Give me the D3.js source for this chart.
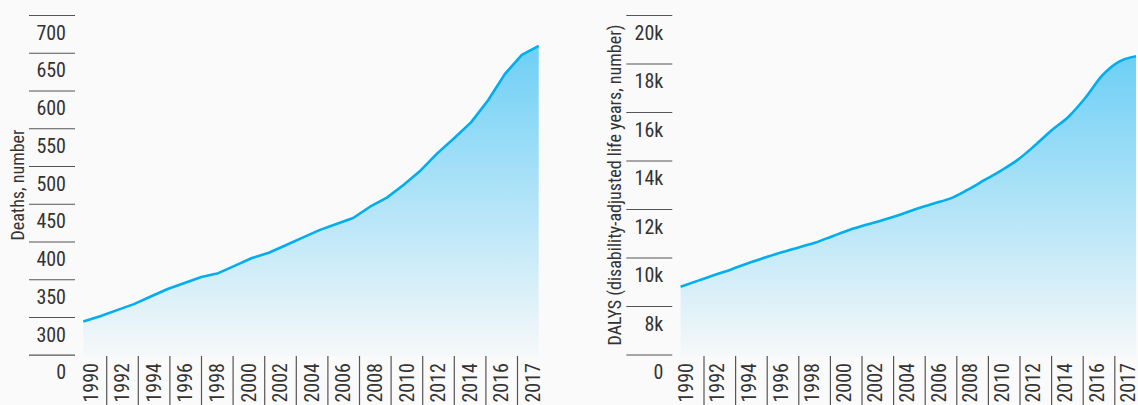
<!DOCTYPE html>
<html>
<head>
<meta charset="utf-8">
<script src="https://cdn.jsdelivr.net/npm/d3@7"></script>
<style>
  body { margin: 0; background: #fafafa; }
  text { font-family: "Roboto Condensed", "Liberation Sans Narrow", sans-serif; fill: #333; }
</style>
</head>
<body>
<div id="chart"></div>
<script>
// data
var years = [1990, 1991, 1992, 1993, 1994, 1995, 1996, 1997, 1998, 1999,
             2000, 2001, 2002, 2003, 2004, 2005, 2006, 2007, 2008, 2009,
             2010, 2011, 2012, 2013, 2014, 2015, 2016, 2017];
var yearLabels = ['1990', '1992', '1994', '1996', '1998', '2000', '2002', '2004',
                  '2006', '2008', '2010', '2012', '2014', '2016', '2017'];

var deaths = [317, 324, 332, 340, 350, 360, 368, 376, 381, 391,
              401, 408, 418, 428, 438, 446, 454, 469, 481, 498,
              517, 540, 560, 581, 610, 645, 670, 682];
var dalys = [9510, 9750, 9990, 10220, 10480, 10710, 10930, 11130, 11330, 11590,
             11850, 12060, 12260, 12480, 12720, 12940, 13150, 13500, 13900, 14300,
             14750, 15330, 15960, 16520, 17300, 18220, 18790, 19010];

var deathTicks = [0, 300, 350, 400, 450, 500, 550, 600, 650, 700];
var dalyTicks = [0, 8000, 10000, 12000, 14000, 16000, 18000, 20000];

// page constants
var width = 1138;
var height = 405;
var panelOffset = 597.3;
var plotBottom = 355.7;

var svg = d3.select('#chart')
    .append('svg')
    .attr('width', width)
    .attr('height', height);

svg.append('rect')
    .attr('width', width)
    .attr('height', height)
    .attr('fill', '#fafafa');

// shared gradient for the area fills
var grad = svg.append('defs').append('linearGradient')
    .attr('id', 'fillGrad')
    .attr('x1', 0).attr('y1', 0)
    .attr('x2', 0).attr('y2', 1);
grad.append('stop').attr('offset', '0%').attr('stop-color', '#6dcff6');
grad.append('stop').attr('offset', '100%').attr('stop-color', '#f6f8f9');

function drawPanel(offset, values, ticks, yScale, tickFormat, title, curve, labelShift) {
    var g = svg.append('g').attr('transform', 'translate(' + offset + ',0)');

    var xLine = d3.scaleLinear().domain([1990, 2017]).range([83.3, 538.7]);
    var xBand = d3.scaleBand().domain(yearLabels).range([75.1, 549.1]);

    // y ticks: a rule above each label
    g.selectAll('line.ytick')
        .data(ticks)
        .enter()
        .append('line')
        .attr('class', 'ytick')
        .attr('x1', 29)
        .attr('x2', 75)
        .attr('y1', d => yScale(d) - 16.8)
        .attr('y2', d => yScale(d) - 16.8)
        .attr('stroke', '#555')
        .attr('stroke-width', 1.2);

    g.selectAll('text.ylabel')
        .data(ticks)
        .enter()
        .append('text')
        .attr('class', 'ylabel')
        .attr('x', 66)
        .attr('y', d => yScale(d))
        .attr('dy', '0.36em')
        .style('text-anchor', 'end')
        .style('font-size', '20px')
        .text(tickFormat);

    g.append('text')
        .attr('transform', 'translate(17.5,185) rotate(-90)')
        .attr('dy', '0.36em')
        .style('text-anchor', 'middle')
        .style('font-size', '18px')
        .text(title);

    // x axis: separators between year bands
    g.selectAll('line.sep')
        .data(yearLabels.slice(1))
        .enter()
        .append('line')
        .attr('class', 'sep')
        .attr('x1', d => xBand(d))
        .attr('x2', d => xBand(d))
        .attr('y1', plotBottom)
        .attr('y2', height)
        .attr('stroke', '#555')
        .attr('stroke-width', 1.2);

    g.selectAll('text.xlabel')
        .data(yearLabels)
        .enter()
        .append('text')
        .attr('class', 'xlabel')
        .attr('transform', d => 'translate(' + (xBand(d) + xBand.bandwidth() / 2 + labelShift) + ',363) rotate(-90)')
        .attr('dy', '0.33em')
        .style('text-anchor', 'end')
        .style('font-size', '20px')
        .text(d => d);

    var area = d3.area()
        .x((d, i) => xLine(years[i]))
        .y0(plotBottom)
        .y1(d => yScale(d))
        .curve(curve);

    var line = d3.line()
        .x((d, i) => xLine(years[i]))
        .y(d => yScale(d))
        .curve(curve);

    g.append('path')
        .datum(values)
        .attr('d', area)
        .attr('fill', 'url(#fillGrad)');

    g.append('path')
        .datum(values)
        .attr('d', line)
        .attr('fill', 'none')
        .attr('stroke', '#00aeef')
        .attr('stroke-width', 2.6)
        .attr('stroke-linejoin', 'round');
}

// broken axes: the 0 label sits one step below the lowest real tick
var yDeaths = d3.scaleLinear().domain([0, 300, 700]).range([372, 334.3, 32.3]);
var yDalys = d3.scaleLinear().domain([0, 8000, 20000]).range([371.8, 323.3, 32.3]);

drawPanel(0, deaths, deathTicks, yDeaths, d => d, 'Deaths, number', d3.curveLinear, 0);
drawPanel(panelOffset, dalys, dalyTicks, yDalys, d => d === 0 ? '0' : (d / 1000) + 'k',
    'DALYS (disability-adjusted life years, number)', d3.curveMonotoneX, -2);
</script>
</body>
</html>
